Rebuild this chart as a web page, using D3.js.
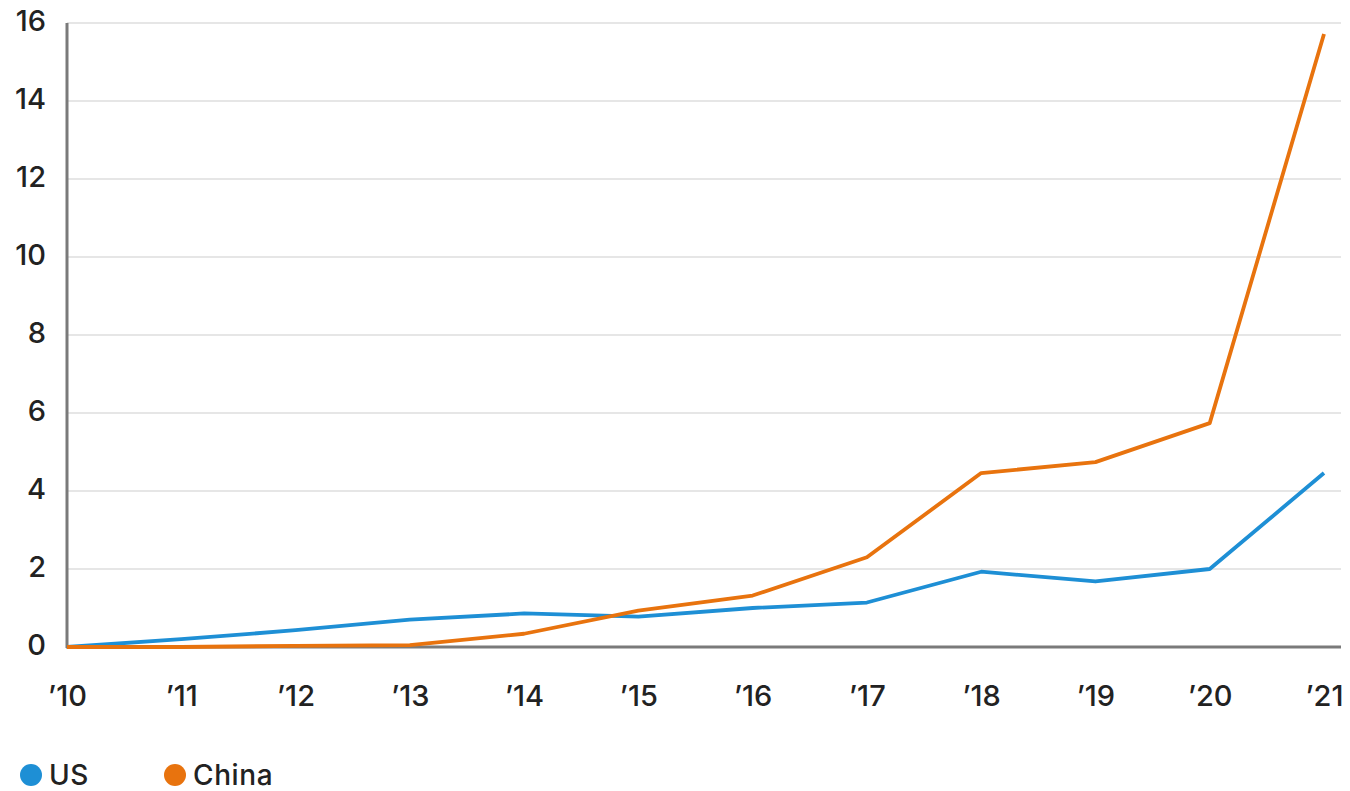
<!DOCTYPE html>
<html>
<head>
<meta charset="utf-8">
<script src="https://cdn.jsdelivr.net/npm/d3@7"></script>
<style>
  html, body { margin: 0; padding: 0; background: #fff; }
  svg text { font-family: Inter, "Noto Sans", sans-serif; font-weight: 500; fill: #222; }
</style>
</head>
<body>
<svg id="chart" width="1350" height="791"></svg>
<script>
// Year labels along the x axis
const years = ["\u201910", "\u201911", "\u201912", "\u201913", "\u201914", "\u201915", "\u201916", "\u201917", "\u201918", "\u201919", "\u201920", "\u201921"];
// Series values
const usValues    = [0, 0.2, 0.43, 0.7, 0.86, 0.78, 1.0, 1.14, 1.93, 1.68, 2.0, 4.46];
const chinaValues = [0, 0.0, 0.03, 0.05, 0.34, 0.93, 1.32, 2.3, 4.46, 4.74, 5.74, 15.72];
// Y tick values
const yTicks = [0, 2, 4, 6, 8, 10, 12, 14, 16];

const series = [
  { name: "US", values: usValues, color: "#1e8fd5" },
  { name: "China", values: chinaValues, color: "#e8730e" }
];

const svg = d3.select("#chart");
const margin = { left: 67, right: 10, top: 23, bottom: 143 };
const width = 1350, height = 791;

const x = d3.scalePoint().domain(years).range([margin.left, 1324]);
const y = d3.scaleLinear().domain([0, 16]).range([height - margin.bottom - 1, margin.top]);

// Horizontal gridlines
svg.append("g")
  .selectAll("line")
  .data(yTicks.filter(d => d > 0))
  .join("line")
  .attr("x1", margin.left)
  .attr("x2", 1341)
  .attr("y1", d => y(d))
  .attr("y2", d => y(d))
  .attr("stroke", "#e6e6e6")
  .attr("stroke-width", 2);

// Y axis labels
const yAxis = d3.axisLeft(y).tickValues(yTicks).tickSize(0).tickPadding(21);
const gy = svg.append("g").attr("transform", `translate(${margin.left},0)`).call(yAxis);
gy.select(".domain").remove();
gy.selectAll("text")
  .attr("font-size", 29)
  .attr("dy", "0.36em")
  .attr("transform", "translate(0,-3)");

// Y axis line
svg.append("line")
  .attr("x1", margin.left).attr("x2", margin.left)
  .attr("y1", y(16)).attr("y2", y(0) + 1)
  .attr("stroke", "#7a7a7a").attr("stroke-width", 3);

// X axis
const xAxis = d3.axisBottom(x).tickSize(0).tickPadding(59);
const gx = svg.append("g").attr("transform", `translate(0,${y(0)})`).call(xAxis);
gx.select(".domain").remove();
gx.selectAll("text").attr("font-size", 29).attr("dy", "0");

svg.append("line")
  .attr("x1", margin.left - 1).attr("x2", 1341)
  .attr("y1", y(0)).attr("y2", y(0))
  .attr("stroke", "#7a7a7a").attr("stroke-width", 3);

// Lines
const line = d3.line()
  .x((d, i) => x(years[i]))
  .y(d => y(d));

svg.append("g")
  .selectAll("path")
  .data(series)
  .join("path")
  .attr("d", d => line(d.values))
  .attr("fill", "none")
  .attr("stroke", d => d.color)
  .attr("stroke-width", 3.8)
  .attr("stroke-linejoin", "round");

// Legend
const legend = svg.append("g").attr("transform", "translate(0,775)");
const legendX = [31, 175];
const items = legend.selectAll("g")
  .data(series)
  .join("g")
  .attr("transform", (d, i) => `translate(${legendX[i]},0)`);
items.append("circle")
  .attr("r", 11)
  .attr("fill", d => d.color);
items.append("text")
  .attr("x", 18)
  .attr("y", 10)
  .attr("font-size", 28)
  .attr("letter-spacing", 0.6)
  .text(d => d.name);
</script>
</body>
</html>
